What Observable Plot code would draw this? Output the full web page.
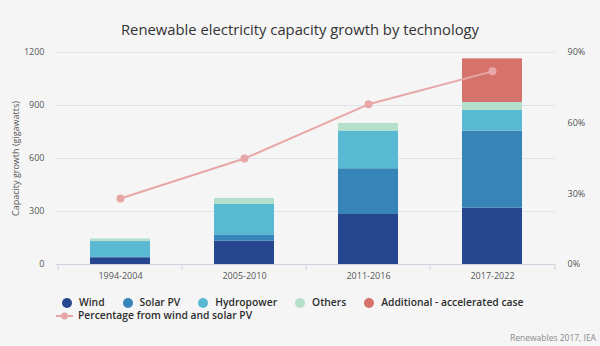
<!DOCTYPE html>
<html>
<head>
<meta charset="utf-8">
<script src="https://cdn.jsdelivr.net/npm/d3@7"></script>
<script src="https://cdn.jsdelivr.net/npm/@observablehq/plot@0.6"></script>
<style>
  html, body { margin: 0; padding: 0; background: #f5f5f5; }
  body { width: 600px; height: 346px; position: relative; overflow: hidden; font-family: "Open Sans", sans-serif; }
  #title { position: absolute; top: 19px; left: 0; width: 600px; text-align: center; font-size: 14.8px; line-height: 20px; color: #333; }
  #chart { position: absolute; top: 40px; left: 0; }
  #legend { position: absolute; top: 296px; left: 62px; font-size: 10.3px; font-weight: 600; color: #2d2d2d; }
  .row { display: flex; align-items: center; height: 13px; line-height: 13px; white-space: nowrap; }
  .item { display: inline-flex; align-items: center; margin-right: 18px; }
  .sw { width: 10px; height: 10px; border-radius: 50%; display: inline-block; margin-right: 7px; }
  .ln { width: 17px; height: 10px; margin-right: 5px; display: inline-block; margin-left: -6px; }
  #credit { position: absolute; right: 4px; bottom: 3px; font-size: 8.5px; color: #8a8a8a; }
</style>
</head>
<body>
<div id="title">Renewable electricity capacity growth by technology</div>
<div id="chart"></div>
<div id="legend"></div>
<div id="credit">Renewables 2017, IEA</div>
<script>
const periods = ["1994-2004", "2005-2010", "2011-2016", "2017-2022"];
const techs = ["Wind", "Solar PV", "Hydropower", "Others", "Additional - accelerated case"];
const colors = ["#26468f", "#3784b8", "#5ab9d2", "#b3dfcb", "#d5726b"];
const wind = [38, 132, 283, 319];
const solar = [2, 32, 259, 436];
const hydro = [90, 176, 213, 117];
const others = [15, 34, 43, 45];
const additional = [0, 0, 0, 247];
const pctShare = [28, 45, 68, 82];
const gwTicks = [0, 300, 600, 900, 1200];
const pctTicks = [0, 30, 60, 90];
const lineLabel = "Percentage from wind and solar PV";
const lineColor = "#e8a7a7";

const series = [wind, solar, hydro, others, additional];
const bars = [];
periods.forEach((p, i) => techs.forEach((t, j) => bars.push({period: p, tech: t, value: series[j][i]})));
const pcts = periods.map((p, i) => ({period: p, pct: pctShare[i]}));
const pctToGw = v => v * 1200 / 90;

const W = 600, H = 252, mL = 56, mR = 45;
const step = (W - mL - mR) / periods.length;

const chart = Plot.plot({
  width: W, height: H,
  marginTop: 12, marginBottom: 28, marginLeft: mL, marginRight: mR,
  style: {background: "transparent", fontFamily: "Open Sans, sans-serif", fontSize: "9px", color: "#555"},
  x: {domain: periods, paddingInner: 0.52, paddingOuter: 0.26, label: null},
  y: {domain: [0, 1200], label: null},
  color: {domain: techs, range: colors},
  marks: [
    Plot.ruleY(gwTicks.slice(1), {stroke: "#e0e3e8", strokeWidth: 1}),
    Plot.barY(bars, {x: "period", y: "value", fill: "tech", order: techs}),
    Plot.ruleY([0], {stroke: "#ccd3de", strokeWidth: 1}),
    Plot.ruleX(periods, {x: d => d, dx: -step / 2, y1: 0, y2: -34, stroke: "#ccd3de"}),
    Plot.ruleX([periods[periods.length - 1]], {x: d => d, dx: step / 2, y1: 0, y2: -34, stroke: "#ccd3de"}),
    Plot.line(pcts, {x: "period", y: d => pctToGw(d.pct), stroke: lineColor, strokeWidth: 2}),
    Plot.dot(pcts, {x: "period", y: d => pctToGw(d.pct), r: 4, fill: lineColor}),
    Plot.axisY({ticks: gwTicks, tickFormat: d => String(d), tickSize: 0, tickPadding: 12, label: "Capacity growth (gigawatts)", labelAnchor: "center", labelArrow: "none", labelOffset: 44, fill: "#555"}),
    Plot.axisY({anchor: "right", ticks: pctTicks.map(pctToGw), tickFormat: d => Math.round(d * 90 / 1200) + "%", tickSize: 0, tickPadding: 12, label: null, fill: "#555"}),
    Plot.axisX({tickSize: 0, tickPadding: 8, label: null, fill: "#555"})
  ]
});
document.getElementById("chart").appendChild(chart);

const legend = document.getElementById("legend");
const row1 = document.createElement("div");
row1.className = "row";
techs.forEach((t, i) => {
  const it = document.createElement("span");
  it.className = "item";
  it.innerHTML = `<span class="sw" style="background:${colors[i]}"></span>${t}`;
  row1.appendChild(it);
});
legend.appendChild(row1);
const row2 = document.createElement("div");
row2.className = "row";
row2.innerHTML = `<span class="ln"><svg width="17" height="10"><line x1="0" x2="17" y1="5" y2="5" stroke="${lineColor}" stroke-width="2"/><circle cx="8.5" cy="5" r="3.5" fill="${lineColor}"/></svg></span>${lineLabel}`;
legend.appendChild(row2);
</script>
</body>
</html>
